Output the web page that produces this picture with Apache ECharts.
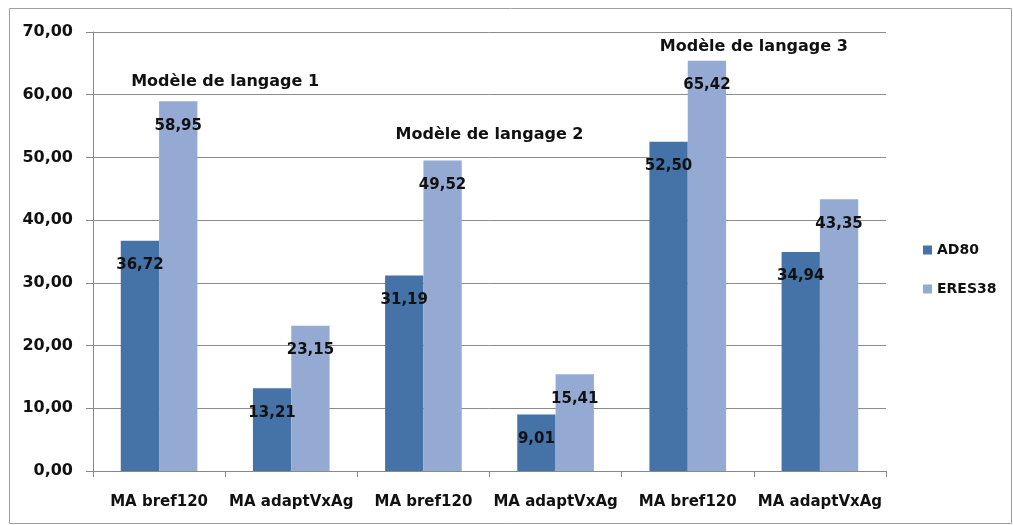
<!DOCTYPE html>
<html>
<head>
<meta charset="utf-8">
<script src="https://cdn.jsdelivr.net/npm/echarts@6/dist/echarts.min.js"></script>
<style>
  html, body { margin: 0; padding: 0; background: #fff; }
  #chart { width: 1013px; height: 525px; }
</style>
</head>
<body>
<div id="chart"></div>
<script>
const categories = ['MA bref120', 'MA adaptVxAg', 'MA bref120', 'MA adaptVxAg', 'MA bref120', 'MA adaptVxAg'];
const seriesNames = ['AD80', 'ERES38'];
const ad80 = [36.72, 13.21, 31.19, 9.01, 52.50, 34.94];
const eres38 = [58.95, 23.15, 49.52, 15.41, 65.42, 43.35];
const yTicks = [0, 10, 20, 30, 40, 50, 60, 70];
const groupTitles = ['Modèle de langage 1', 'Modèle de langage 2', 'Modèle de langage 3'];
const groupTitleLevels = [62.0, 53.6, 67.6];

const FONT = 'DejaVu Sans';
const fmt = v => Number(v).toFixed(2).replace('.', ',');

const chart = echarts.init(document.getElementById('chart'), null, { renderer: 'canvas' });

const labelStyle = {
  show: true,
  position: 'insideTop',
  distance: 17,
  color: '#111',
  fontFamily: FONT,
  fontWeight: 'bold',
  fontSize: 15,
  formatter: p => fmt(p.value)
};

const option = {
  animation: false,
  backgroundColor: '#fff',
  grid: { left: 93, right: 127, top: 32, bottom: 54, containLabel: false },
  legend: {
    orient: 'vertical',
    left: 918,
    top: 238,
    itemWidth: 9,
    itemHeight: 9,
    itemGap: 25,
    icon: 'rect',
    textStyle: { fontFamily: FONT, fontWeight: 'bold', fontSize: 14, color: '#111' },
    data: seriesNames
  },
  xAxis: {
    type: 'category',
    data: categories,
    axisLine: { show: true, lineStyle: { color: '#888', width: 1 } },
    axisTick: { show: true, length: 6, lineStyle: { color: '#888' } },
    axisLabel: { margin: 24, color: '#111', fontFamily: FONT, fontWeight: 'bold', fontSize: 15, interval: 0 }
  },
  yAxis: {
    type: 'value',
    min: yTicks[0],
    max: yTicks[yTicks.length - 1],
    interval: 10,
    axisLine: { show: true, lineStyle: { color: '#888', width: 1 } },
    axisTick: { show: true, length: 7, lineStyle: { color: '#888' } },
    splitLine: { show: true, lineStyle: { color: '#8c8c8c', width: 1 } },
    axisLabel: { margin: 20, color: '#111', fontFamily: FONT, fontWeight: 'bold', fontSize: 16, formatter: v => fmt(v) }
  },
  series: [
    {
      name: seriesNames[0], type: 'bar', data: ad80,
      barGap: '0%', barCategoryGap: '42%',
      itemStyle: { color: '#4573A8' },
      label: labelStyle
    },
    {
      name: seriesNames[1], type: 'bar', data: eres38,
      barGap: '0%', barCategoryGap: '42%',
      itemStyle: { color: '#95AAD3' },
      label: labelStyle
    }
  ]
};

chart.setOption(option);

const graphics = [{
  type: 'rect', silent: true, z: -1,
  shape: { x: 9.5, y: 8.5, width: 1002, height: 515 },
  style: { fill: 'none', stroke: '#a0a0a0', lineWidth: 1 }
}];
groupTitles.forEach((t, g) => {
  const a = chart.convertToPixel({ xAxisIndex: 0 }, g * 2);
  const b = chart.convertToPixel({ xAxisIndex: 0 }, g * 2 + 1);
  const y = chart.convertToPixel({ yAxisIndex: 0 }, groupTitleLevels[g]);
  graphics.push({
    type: 'text', silent: true, z: 10,
    x: (a + b) / 2, y: y,
    style: {
      text: t, fill: '#111', font: 'bold 16px "' + FONT + '"',
      textAlign: 'center', textVerticalAlign: 'middle',
      backgroundColor: '#fff', padding: [1, 2]
    }
  });
});
chart.setOption({ graphic: graphics });
</script>
</body>
</html>
